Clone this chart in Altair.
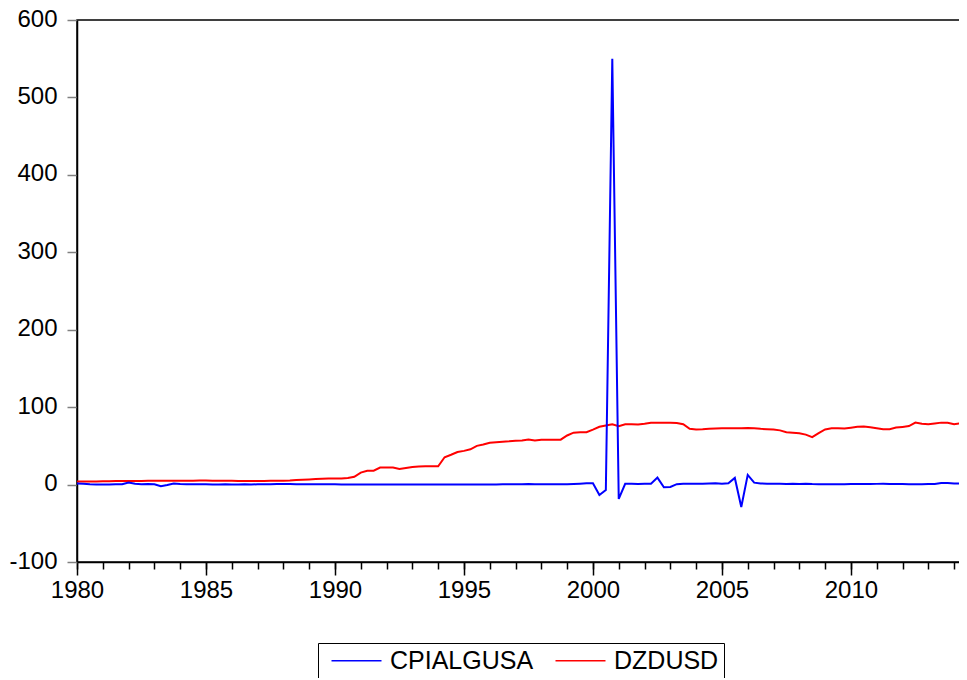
import altair as alt
import pandas as pd

# Quarterly observations 1980Q1 .. 2014Q3
start_year = 1980
n_obs = 139

cpialgusa = [
    1.5, 1.2, 0.5, 0.2,      # 1980
    0.0, 0.2, 0.3, 0.4,      # 1981
    2.5, 1.0, 0.5, 0.8,      # 1982
    0.5, -2.0, -0.5, 1.5,    # 1983
    0.8, 0.5, 0.4, 0.3,      # 1984
    0.3, 0.2, 0.2, 0.3,      # 1985
    0.2, 0.2, 0.3, 0.2,      # 1986
    0.3, 0.4, 0.5, 0.6,      # 1987
    0.7, 0.6, 0.5, 0.5,      # 1988
    0.4, 0.4, 0.3, 0.3,      # 1989
    0.3, 0.2, 0.2, 0.2,      # 1990
    0.2, 0.2, 0.2, 0.2,      # 1991
    0.2, 0.2, 0.2, 0.2,      # 1992
    0.2, 0.2, 0.2, 0.2,      # 1993
    0.2, 0.2, 0.2, 0.2,      # 1994
    0.2, 0.2, 0.2, 0.2,      # 1995
    0.2, 0.2, 0.3, 0.3,      # 1996
    0.3, 0.5, 0.6, 0.5,      # 1997
    0.3, 0.3, 0.4, 0.4,      # 1998
    0.5, 0.8, 1.2, 1.7,      # 1999
    1.7, -13.4, -7.0, 550.0, # 2000
    -18.5, 1.0, 1.0, 0.8,    # 2001
    1.0, 1.0, 9.0, -3.5,     # 2002
    -3.0, 0.5, 1.0, 1.2,     # 2003
    1.0, 1.2, 1.5, 1.7,      # 2004
    1.2, 1.7, 8.6, -29.0,    # 2005
    12.5, 2.5, 1.5, 1.0,     # 2006
    1.0, 1.2, 0.8, 1.0,      # 2007
    0.8, 1.0, 0.6, 0.5,      # 2008
    0.4, 0.3, 0.4, 0.5,      # 2009
    0.6, 0.8, 0.7, 0.8,      # 2010
    0.9, 1.0, 0.8, 0.7,      # 2011
    0.6, 0.5, 0.5, 0.5,      # 2012
    0.6, 0.8, 2.0, 2.0,      # 2013
    1.5, 1.2, 1.0,           # 2014
]

dzdusd = [
    3.9, 3.9, 4.0, 4.0,      # 1980
    4.2, 4.4, 4.6, 4.6,      # 1981
    4.5, 4.6, 4.7, 4.8,      # 1982
    4.8, 4.8, 4.8, 4.9,      # 1983
    4.9, 5.0, 5.0, 5.1,      # 1984
    5.1, 5.0, 5.0, 4.9,      # 1985
    4.8, 4.7, 4.6, 4.6,      # 1986
    4.6, 4.7, 4.8, 4.9,      # 1987
    5.0, 5.3, 5.8, 6.3,      # 1988
    6.7, 7.1, 7.4, 7.7,      # 1989
    8.0, 8.0, 8.5, 10.0,     # 1990
    15.5, 17.7, 18.0, 22.0,  # 1991
    22.0, 22.0, 20.2, 21.5,  # 1992
    22.8, 23.2, 23.7, 23.7,  # 1993
    23.7, 35.3, 38.5, 42.0,  # 1994
    43.5, 45.5, 50.0, 51.7,  # 1995
    54.0, 54.8, 55.3, 55.8,  # 1996
    56.5, 57.0, 58.2, 57.0,  # 1997
    58.0, 58.0, 58.0, 58.0,  # 1998
    63.4, 67.0, 67.5, 67.7,  # 1999
    71.0, 74.6, 76.3, 78.0,  # 2000
    75.5, 78.0, 77.8, 77.5,  # 2001
    78.5, 79.8, 80.0, 80.0,  # 2002
    80.0, 79.5, 78.0, 72.0,  # 2003
    71.2, 71.5, 72.0, 72.5,  # 2004
    72.8, 72.8, 72.8, 72.8,  # 2005
    73.0, 72.8, 72.0, 71.5,  # 2006
    71.0, 70.0, 67.7, 67.0,  # 2007
    66.4, 64.5, 61.2, 66.5,  # 2008
    71.2, 72.8, 72.8, 72.5,  # 2009
    73.5, 74.6, 75.0, 74.0,  # 2010
    72.8, 71.6, 71.6, 73.6,  # 2011
    74.5, 75.5, 80.0, 78.5,  # 2012
    78.0, 79.0, 80.0, 79.8,  # 2013
    78.0, 79.0, 80.0,        # 2014
]

series_names = ["CPIALGUSA", "DZDUSD"]
series_colors = ["#0000FF", "#FF0000"]
major_ticks = [1980, 1985, 1990, 1995, 2000, 2005, 2010]
minor_ticks = list(range(1980, 2015))
y_ticks = [-100, 0, 100, 200, 300, 400, 500, 600]

t = [start_year + i / 4 for i in range(n_obs)]
df_blue = pd.DataFrame({"t": t, "value": cpialgusa, "series": series_names[0]})
df_red = pd.DataFrame({"t": t, "value": dzdusd, "series": series_names[1]})

FONT = "Liberation Sans"

x_scale = alt.Scale(domain=[1980, 2014.5], nice=False, zero=False)
y_scale = alt.Scale(domain=[-100, 600], nice=False, zero=False)
color_scale = alt.Scale(domain=series_names, range=series_colors)

y_axis = alt.Axis(
    values=y_ticks, title=None, grid=False, tickSize=10, tickColor="#808080",
    tickWidth=1.5, domainColor="black", domainWidth=1.5, labelPadding=10,
    labelFontSize=24, labelFont=FONT, labelColor="black", labelOffset=-1,
    labelExpr="datum.value < 0 ? '-' + abs(datum.value) : '' + datum.value",
)

legend = alt.Legend(
    title=None, orient="none", legendX=241, legendY=623, direction="horizontal",
    symbolType="M-1,0L4,0", symbolSize=400, symbolStrokeWidth=1.5,
    symbolOffset=6, labelOffset=36, columnPadding=13, padding=5,
    labelFontSize=25, labelFont=FONT, labelColor="black",
    strokeColor="black", fillColor="white",
)

red = alt.Chart(df_red).mark_line(strokeWidth=2).encode(
    x=alt.X("t:Q", scale=x_scale, axis=alt.Axis(
        orient="bottom", values=minor_ticks, labels=False, title=None,
        grid=False, tickSize=7, tickColor="black", tickWidth=1.5,
        domain=False)),
    y=alt.Y("value:Q", scale=y_scale, axis=y_axis),
    color=alt.Color("series:N", scale=color_scale, legend=legend),
)

blue = alt.Chart(df_blue).mark_line(strokeWidth=2).encode(
    x=alt.X("t:Q", scale=x_scale, axis=alt.Axis(
        orient="bottom", values=major_ticks, title=None, grid=False,
        tickSize=13, tickColor="black", tickWidth=1.5, domainColor="black",
        domainWidth=1.5, labelPadding=3, labelFontSize=24, labelFont=FONT,
        labelColor="black", format="d", labelFlush=False)),
    y=alt.Y("value:Q", scale=y_scale, axis=y_axis),
    color=alt.Color("series:N", scale=color_scale, legend=legend),
)

chart = (
    alt.layer(red, blue)
    .resolve_axis(x="independent")
    .properties(
        width=890, height=542,
        autosize=alt.AutoSizeParams(type="none"),
        padding={"left": 69, "top": 12, "right": -8, "bottom": 116},
        background="white",
    )
    .configure_view(stroke="black", strokeWidth=1.5)
)

chart.save("out.html", embed_options={"renderer": "svg", "actions": False})
